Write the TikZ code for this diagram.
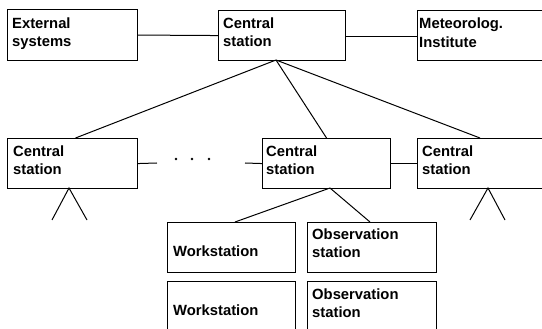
\documentclass[tikz,border=0pt]{standalone}
\usepackage{fontspec}
\setmainfont{Liberation Sans}
\begin{document}
\begin{tikzpicture}[x=1pt,y=-1pt,
  box/.style={draw, line width=1.1pt, rectangle, inner sep=0pt, anchor=north west},
  lbl/.style={inner sep=0pt, anchor=base west, font=\fontsize{14.8}{18}\selectfont\bfseries},
  conn/.style={line width=1.0pt}]
\useasboundingbox (0,0) rectangle (542,329);
\clip (0,0) rectangle (542,329);
% top row
\node[box, minimum width=130pt, minimum height=51pt] (ext) at (7,9) {};
\node[box, minimum width=127pt, minimum height=50pt] (top) at (218,10) {};
\node[box, minimum width=140pt, minimum height=50pt] (met) at (417,10) {};
\node[lbl] (extA) at ([shift={(5,20)}]ext.north west) {External};
\node[lbl] (extB) at ([shift={(5,38)}]ext.north west) {systems};
\node[lbl] (topA) at ([shift={(5,19)}]top.north west) {Central};
\node[lbl] (topB) at ([shift={(5,37)}]top.north west) {station};
\node[lbl] (metA) at ([shift={(2,19)}]met.north west) {Meteorolog.};
\node[lbl] (metB) at ([shift={(2,38)}]met.north west) {Institute};
% second row
\node[box, minimum width=130pt, minimum height=50pt] (cl) at (7,138) {};
\node[box, minimum width=128pt, minimum height=50pt] (cm) at (262,138) {};
\node[box, minimum width=140pt, minimum height=50pt] (cr) at (417,138) {};
\node[lbl] (clA) at ([shift={(6,19)}]cl.north west) {Central};
\node[lbl] (clB) at ([shift={(6,37)}]cl.north west) {station};
\node[lbl] (cmA) at ([shift={(4,19)}]cm.north west) {Central};
\node[lbl] (cmB) at ([shift={(4,37)}]cm.north west) {station};
\node[lbl] (crA) at ([shift={(5,19)}]cr.north west) {Central};
\node[lbl] (crB) at ([shift={(5,37)}]cr.north west) {station};
% bottom boxes
\node[box, minimum width=128pt, minimum height=50pt] (ws1) at (167,222) {};
\node[box, minimum width=129pt, minimum height=50pt] (ob1) at (307,222) {};
\node[box, minimum width=128pt, minimum height=60pt] (ws2) at (167,281) {};
\node[box, minimum width=129pt, minimum height=60pt] (ob2) at (307,281) {};
\node[lbl] (ws1A) at ([shift={(6,35)}]ws1.north west) {Workstation};
\node[lbl] (ob1A) at ([shift={(5,18)}]ob1.north west) {Observation};
\node[lbl] (ob1B) at ([shift={(5,36)}]ob1.north west) {station};
\node[lbl] (ws2A) at ([shift={(6,35)}]ws2.north west) {Workstation};
\node[lbl] (ob2A) at ([shift={(5,18)}]ob2.north west) {Observation};
\node[lbl] (ob2B) at ([shift={(5,36)}]ob2.north west) {station};
% connectors top
\draw[conn] (ext.east) -- (top.west);
\draw[conn] ([yshift=-1]top.east) -- ([yshift=-1]met.west);
\coordinate (apex) at (276,60);
\draw[conn] (apex) -- ([xshift=3]cl.north);
\draw[conn] (apex) -- (cm.north);
\draw[conn] (apex) -- (480,138);
% row connectors
\coordinate (dl) at (157,163);
\coordinate (dr) at (245,163);
\draw[conn] (cl.east) -- (dl);
\draw[conn] (dr) -- (cm.west);
\draw[conn] (cm.east) -- (cr.west);
\foreach \xx in {176,192,209} \fill (\xx,159) circle (1.3pt);
% triangles
\coordinate (tl) at (69,188);
\coordinate (tr) at (488,188);
\draw[conn] (52,220) -- (tl) -- (87,220);
\draw[conn] (470,220) -- (tr) -- (505,220);
% lower connectors
\coordinate (mapex) at (330,188);
\draw[conn] (mapex) -- (235,222);
\draw[conn] (mapex) -- (370,222);
\end{tikzpicture}
\end{document}
